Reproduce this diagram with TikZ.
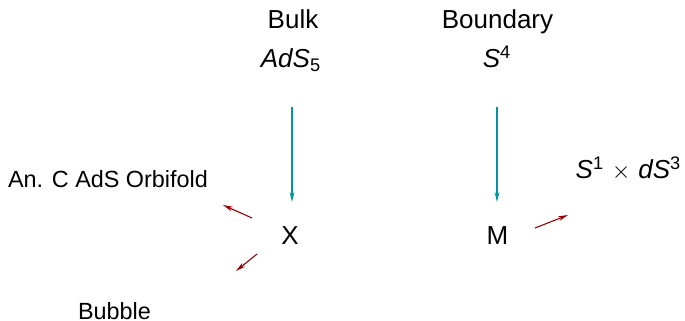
\documentclass[tikz,border=0pt]{standalone}
\usepackage{fontspec}
\setmainfont{Liberation Sans}
\usetikzlibrary{arrows.meta}
\definecolor{flowteal}{RGB}{0,150,155}
\definecolor{flowred}{RGB}{150,0,0}
\tikzset{
  lbl/.style={inner sep=0pt, anchor=base, font=\fontsize{13}{15}\selectfont},
  small/.style={lbl, font=\fontsize{11.7}{14}\selectfont},
  down/.style={draw=flowteal, line width=0.55pt, -{Stealth[length=5pt,width=2.4pt]}},
  side/.style={draw=flowred, line width=0.55pt, -{Stealth[length=5pt,width=2.4pt]}}
}
\begin{document}
\begin{tikzpicture}[x=0.5pt,y=-0.5pt]
\useasboundingbox (0,0) rectangle (685,321);
% column headings
\node[lbl] (bulk) at (293,28) {Bulk};
\node[lbl] (ads) at (291,67) {\textit{AdS}\textsubscript{5}};
\node[lbl] (bdry) at (497.5,28) {Boundary};
\node[lbl] (sph) at (497,67) {\textit{S}\textsuperscript{4}};
% targets
\node[lbl] (x) at (290,244) {X};
\node[lbl] (m) at (497.5,244) {M};
\node[lbl] (dsprod) at (628.5,178) {\textit{S}\textsuperscript{1}\hspace{0.3em}$\times$\hspace{0.3em}\textit{dS}\textsuperscript{3}};
\node[small] (orb) at (108,187) {An. C AdS Orbifold};
\node[small] (bub) at (114.5,319) {Bubble};
% arrow end points
\coordinate (a1) at (292,107);
\coordinate (a2) at (292,202);
\coordinate (b1) at (497,107);
\coordinate (b2) at (497,202);
\coordinate (c1) at (252,218);
\coordinate (c2) at (223,205);
\coordinate (d1) at (257,254);
\coordinate (d2) at (236,271);
\coordinate (e1) at (535,228);
\coordinate (e2) at (568,215);
% connectors
\draw[down] (a1) -- (a2);
\draw[down] (b1) -- (b2);
\draw[side] (c1) -- (c2);
\draw[side] (d1) -- (d2);
\draw[side] (e1) -- (e2);
\end{tikzpicture}
\end{document}
